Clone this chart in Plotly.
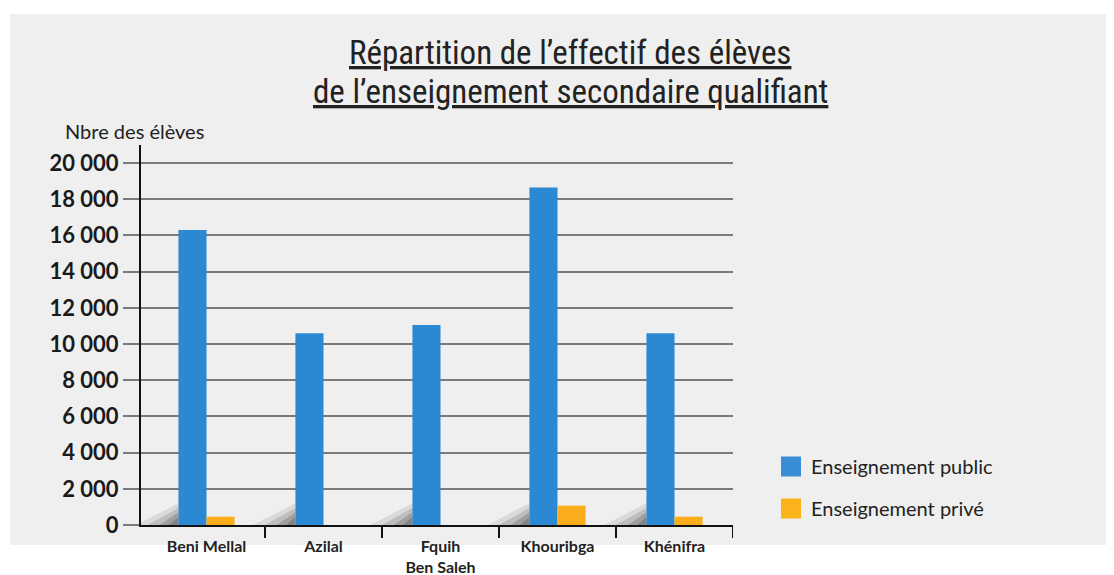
import plotly.graph_objects as go

categories = ["Beni Mellal", "Azilal", "Fquih<br>Ben Saleh", "Khouribga", "Khénifra"]
public_values = [16300, 10600, 11050, 18650, 10600]
private_values = [460, 0, 0, 1070, 460]
y_tick_vals = [0, 2000, 4000, 6000, 8000, 10000, 12000, 14000, 16000, 18000, 20000]
y_tick_text = ["0", "2 000", "4 000", "6 000", "8 000", "10 000", "12 000", "14 000",
               "16 000", "18 000", "20 000"]
series_names = ["Enseignement public", "Enseignement privé"]

BLUE = "#2b88d3"
ORANGE = "#fbae1c"

OFF = 8  # default page body margin
W, H = 1114 - OFF, 575 - OFF
# plot area in reference-image pixels
RL, RR, RT, RB = 141, 733, 145, 525
L, R, T, B = RL - OFF, RR - OFF, RT - OFF, RB - OFF

BAR_GAP = 0.52
BAR_W = (1 - BAR_GAP) / 2


def px_x(p):
    return (p - RL) / (RR - RL)


def px_y(p):
    return (RB - p) / (RB - RT)


fig = go.Figure()
xs = list(range(len(categories)))
fig.add_trace(go.Bar(x=xs, y=public_values, marker=dict(color=BLUE, line=dict(width=0)),
                     name=series_names[0], showlegend=False))
fig.add_trace(go.Bar(x=xs, y=private_values, marker=dict(color=ORANGE, line=dict(width=0)),
                     name=series_names[1], showlegend=False))

# legend entries
for name, col, grp in [(series_names[0], "#3a8ed6", "a"), (series_names[1], "#fbb31b", "b")]:
    fig.add_trace(go.Scatter(x=[None], y=[None], mode="markers", name=name, legendgroup=grp,
                             marker=dict(symbol="square", size=16, color=col,
                                         line=dict(color=col, width=4))))

shapes = [
    dict(type="rect", xref="paper", yref="paper", x0=px_x(10), x1=px_x(1114),
         y0=px_y(545), y1=px_y(14), fillcolor="#efefef", line=dict(width=0), layer="below"),
]
# soft shadows at the foot of the public bars
for i in xs:
    left = i - BAR_W
    for dx, dy, op in [(0.36, 1200, 0.12), (0.26, 950, 0.18), (0.16, 700, 0.25), (0.08, 450, 0.3)]:
        shapes.append(dict(type="path", xref="x", yref="y",
                           path=f"M {left - dx},0 L {left},0 L {left},{dy} Z",
                           fillcolor="#444", opacity=op, line=dict(width=0), layer="below"))
for i in xs:
    shapes.append(dict(type="line", xref="x", yref="paper", x0=i + 0.5, x1=i + 0.5,
                       y0=0, y1=px_y(538), line=dict(color="#111", width=2)))

TITLE_FONT = "Liberation Sans Narrow, Roboto Condensed, Roboto"
annotations = [
    dict(text="<u>Répartition de l’effectif des élèves</u>", xref="paper", yref="paper",
         x=px_x(570), y=px_y(52), xanchor="center", yanchor="middle", showarrow=False,
         font=dict(family=TITLE_FONT, size=33, color="#222")),
    dict(text="<u>de l’enseignement secondaire qualifiant</u>", xref="paper", yref="paper",
         x=px_x(570), y=px_y(92), xanchor="center", yanchor="middle", showarrow=False,
         font=dict(family=TITLE_FONT, size=33, color="#222")),
    dict(text="Nbre des élèves", xref="paper", yref="paper", x=px_x(63), y=px_y(131),
         xanchor="left", yanchor="middle", showarrow=False,
         font=dict(family="Lato, Open Sans", size=20, color="#222")),
]

fig.update_layout(
    width=W, height=H,
    margin=dict(l=L, r=W - R, t=T, b=H - B, pad=0),
    paper_bgcolor="white", plot_bgcolor="rgba(0,0,0,0)",
    barmode="group", bargap=BAR_GAP, bargroupgap=0,
    shapes=shapes, annotations=annotations,
    showlegend=True,
    legend=dict(x=px_x(771), y=px_y(447), xanchor="left", yanchor="top",
                bgcolor="rgba(0,0,0,0)", font=dict(family="Lato, Open Sans", size=20, color="#222"),
                tracegroupgap=13, itemwidth=30),
    font=dict(family="Lato, Open Sans", color="#222"),
)
fig.update_xaxes(range=[-0.56, 4.5], tickvals=xs, ticktext=categories, ticks="",
                 automargin=False,
                 showline=True, linecolor="#111", linewidth=2, showgrid=False, zeroline=False,
                 tickfont=dict(family="Lato, Open Sans", size=16, color="#222", weight="bold"),
                 ticklabelstandoff=6)
fig.update_yaxes(range=[0, 21000], tickvals=y_tick_vals, ticktext=y_tick_text,
                 automargin=False,
                 showline=True, linecolor="#111", linewidth=2, showgrid=True,
                 gridcolor="#7a7a7a", gridwidth=1.5, zeroline=False,
                 ticks="outside", ticklen=16, tickcolor="#7a7a7a", tickwidth=1.5,
                 tickfont=dict(family="Lato, Open Sans", size=22, color="#1a1a1a", weight="bold"))

fig.write_html("out.html")
